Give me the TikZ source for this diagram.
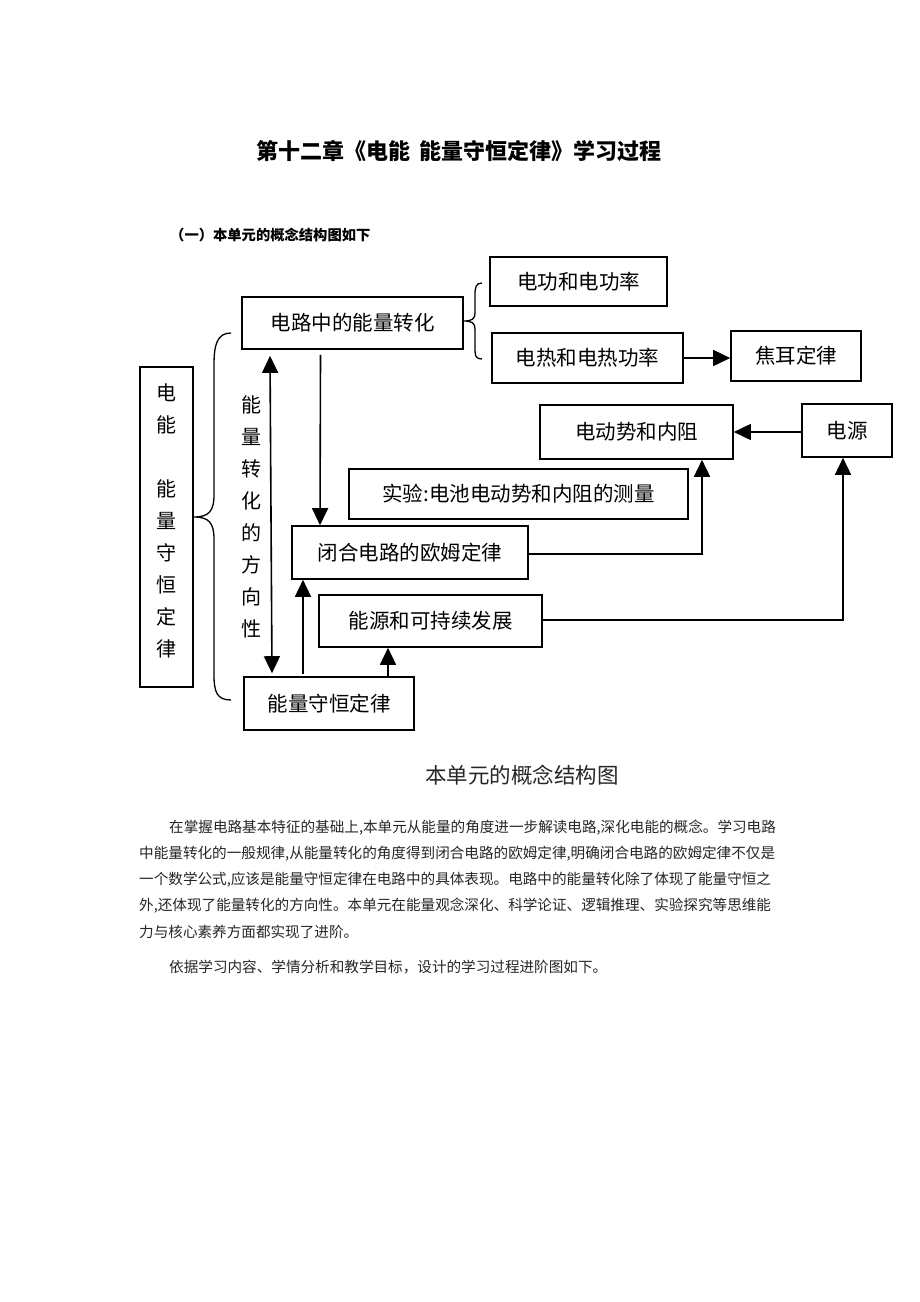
\documentclass[tikz,border=0pt]{standalone}
\usepackage{fontspec}
\setmainfont{Noto Sans CJK SC}
\usetikzlibrary{arrows.meta}
\begin{document}
\begin{tikzpicture}[x=1pt,y=-1pt,
  bx/.style={draw, line width=1.6pt, inner sep=0pt, font=\fontsize{20.5}{24}\selectfont},
  arr/.style={line width=1.6pt, -{Triangle[length=17pt,width=16pt]}},
  darr/.style={line width=1.6pt, {Triangle[length=17pt,width=16pt]}-{Triangle[length=17pt,width=16pt]}},
  brc/.style={line width=1.3pt},
  vtext/.style={align=center, inner sep=0pt, font=\fontsize{20}{32}\selectfont},
  para/.style={anchor=west, inner sep=0pt, font=\fontsize{14.6}{18}\selectfont, text=black!85}
]
\useasboundingbox[fill=white] (0,0) rectangle (920,1302);

% titles
\node[font=\fontsize{22}{26}\selectfont\bfseries] (title) at (459,151) {第十二章《电能\hspace{0.45em}能量守恒定律》学习过程};
\node[anchor=west, inner sep=0pt, font=\fontsize{14.3}{16}\selectfont\bfseries] (sub) at (170,235) {（一）本单元的概念结构图如下};

% boxes
\node[bx, minimum width=221pt, minimum height=52pt] (dl) at (352.5,323) {电路中的能量转化};
\node[bx, minimum width=177pt, minimum height=49pt] (dg) at (578.5,281.5) {电功和电功率};
\node[bx, minimum width=191pt, minimum height=50pt] (dr) at (587.5,358) {电热和电热功率};
\node[bx, minimum width=130pt, minimum height=50pt] (jr) at (796,356) {焦耳定律};
\node[bx, minimum width=193pt, minimum height=54pt] (dd) at (636.5,432) {电动势和内阻};
\node[bx, minimum width=90pt, minimum height=53pt] (dy) at (847,430.5) {电源};
\node[bx, minimum width=339pt, minimum height=50pt] (sy) at (518.5,494) {实验:电池电动势和内阻的测量};
\node[bx, minimum width=236pt, minimum height=53pt] (bh) at (410,552.5) {闭合电路的欧姆定律};
\node[bx, minimum width=223pt, minimum height=52pt] (ny) at (430.5,621) {能源和可持续发展};
\node[bx, minimum width=170pt, minimum height=53pt] (sh) at (329,703.5) {能量守恒定律};
\node[bx, minimum width=53pt, minimum height=320pt] (ev) at (166.5,527) {};
\node[vtext] (evt) at (166.5,521) {电\\能\\~\\能\\量\\守\\恒\\定\\律};
\node[vtext] (fx) at (251,517) {能\\量\\转\\化\\的\\方\\向\\性};

% big brace
\draw[brc] (231,333) .. controls (217,333) and (214,345) .. (214,365) -- (214,495)
  .. controls (214,511) and (209,517) .. (ev.east |- 0,517)
  (ev.east |- 0,517) .. controls (209,517) and (214,523) .. (214,539) -- (214,675)
  .. controls (214,692) and (217,700) .. (231,700);
% small brace
\draw[brc] (482,283) .. controls (476,283) and (475,287) .. (475,295) -- (475,313)
  .. controls (475,319) and (472,321) .. (dl.east |- 0,321)
  (dl.east |- 0,321) .. controls (472,321) and (475,323) .. (475,329) -- (475,350)
  .. controls (475,356) and (476,359) .. (482,359);

% connectors
\draw[darr] ([xshift=-82.5pt,yshift=-6pt]dl.south) -- ([xshift=-57pt,yshift=3pt]sh.north);
\draw[arr] ([xshift=-32pt,yshift=-5pt]dl.south) -- ([xshift=-90pt]bh.north);
\draw[arr] ([xshift=-26pt,yshift=2pt]sh.north) -- ([xshift=-107pt]bh.south);
\draw[arr] ([xshift=59pt]sh.north) -- ([xshift=-42.5pt]ny.south);
\draw[arr] (dr.east) -- (jr.west |- dr.east);
\draw[arr] (dy.west |- dd.east) -- (dd.east);
\draw[arr] ([yshift=-1.5pt]bh.east) -| ([xshift=65.5pt]dd.south);
\draw[arr] ([yshift=1pt]ny.east) -| ([xshift=-4pt]dy.south);

% caption
\node[font=\fontsize{21.5}{24}\selectfont, text=black!85] (cap) at (522,775) {本单元的概念结构图};

% paragraph
\node[para] (p1) at (169,828) {在掌握电路基本特征的基础上,本单元从能量的角度进一步解读电路,深化电能的概念。学习电路};
\node[para] (p2) at (139,854) {中能量转化的一般规律,从能量转化的角度得到闭合电路的欧姆定律,明确闭合电路的欧姆定律不仅是};
\node[para] (p3) at (139,880) {一个数学公式,应该是能量守恒定律在电路中的具体表现。电路中的能量转化除了体现了能量守恒之};
\node[para] (p4) at (139,906) {外,还体现了能量转化的方向性。本单元在能量观念深化、科学论证、逻辑推理、实验探究等思维能};
\node[para] (p5) at (139,932) {力与核心素养方面都实现了进阶。};
\node[para] (p6) at (169,967) {依据学习内容、学情分析和教学目标，设计的学习过程进阶图如下。};
\end{tikzpicture}
\end{document}
